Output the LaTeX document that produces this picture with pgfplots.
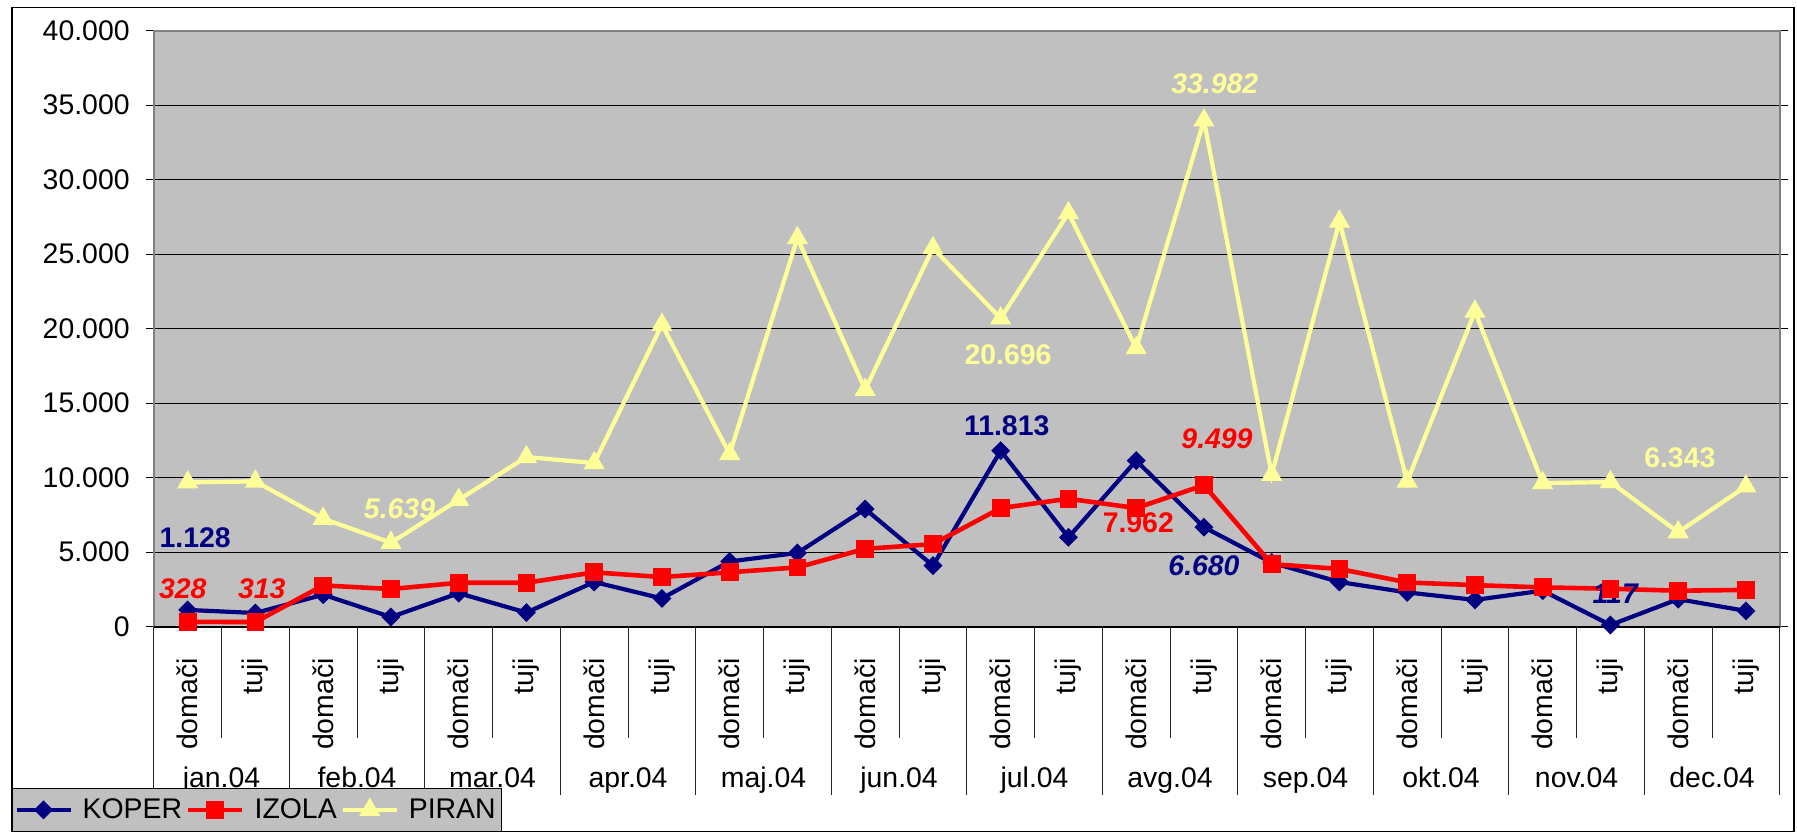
\documentclass[border=0pt]{standalone}
\usepackage{pgfplots}
\pgfplotsset{compat=1.18}
\usepackage{fontspec}
\setmainfont{Liberation Sans}
\definecolor{koper}{HTML}{000080}
\definecolor{izola}{HTML}{FF0000}
\definecolor{piran}{HTML}{FFFF99}
\definecolor{plotbg}{HTML}{C0C0C0}
\newcommand{\fs}{\fontsize{14.2pt}{17pt}\selectfont}

\begin{document}
\begin{tikzpicture}
\useasboundingbox (0,0) rectangle (898.5pt,-416pt);
\fill[white] (0,0) rectangle (898.5pt,-416pt);
\draw[black, line width=0.6pt] (6pt,-3.6pt) rectangle (897pt,-415.6pt);
\begin{axis}[
  at={(76.9pt,-313.35pt)}, anchor=south west,
  scale only axis, width=813pt, height=298pt,
  xmin=-0.5, xmax=23.5, ymin=0, ymax=40000,
  clip=false, scaled y ticks=false,
  axis background/.style={fill=plotbg},
  axis line style={draw=black!50, line width=1pt},
  ytick={0,5000,...,40000},
  yticklabels={0,5.000,10.000,15.000,20.000,25.000,30.000,35.000,40.000},
  ymajorgrids, major grid style={black, line width=0.55pt},
  ytick style={black, line width=0.5pt},
  tick align=outside, major tick length=4pt,
  yticklabel style={font=\fs, anchor=east, inner sep=0pt, xshift=-7.9pt},
  xtick={0,...,23},
  xticklabels={domači,tuji,domači,tuji,domači,tuji,domači,tuji,domači,tuji,domači,tuji,domači,tuji,domači,tuji,domači,tuji,domači,tuji,domači,tuji,domači,tuji},
  xtick style={draw=none},
  xticklabel style={font=\fs, inner sep=0pt, yshift=-11.6pt, rotate=90, anchor=east},
  legend columns=3,
  legend style={at={(-0.0872,-0.2706)}, anchor=north west, fill=plotbg, draw=black,
    font=\fs, inner xsep=1pt, inner ysep=3pt, nodes={inner sep=2pt},
    /tikz/every odd column/.append style={column sep=3pt}},
  legend image code/.code={\draw[#1, mark repeat=2, mark phase=2] plot coordinates {(0pt,0pt) (13.5pt,0pt) (27pt,0pt)};},
]
\addplot[koper, line width=2.1pt, mark=square*, mark size=2.3pt, mark options={rotate=45, solid, fill=koper}] coordinates {
(0,1128) (1,920) (2,2150) (3,650) (4,2250) (5,950) (6,3000) (7,1900) (8,4380) (9,4950) (10,7900) (11,4100)
(12,11813) (13,6000) (14,11150) (15,6680) (16,4300) (17,3000) (18,2300) (19,1800) (20,2420) (21,117) (22,1850) (23,1060)};
\addlegendentry{KOPER}
\addplot[izola, line width=2.3pt, mark=square*, mark size=3.3pt, mark options={solid, fill=izola}] coordinates {
(0,328) (1,313) (2,2770) (3,2530) (4,2950) (5,2950) (6,3650) (7,3330) (8,3650) (9,3980) (10,5230) (11,5540)
(12,7960) (13,8590) (14,7962) (15,9499) (16,4200) (17,3880) (18,2970) (19,2790) (20,2640) (21,2550) (22,2416) (23,2470)};
\addlegendentry{IZOLA}
\addplot[piran, line width=2.1pt, mark=triangle*, mark size=4pt, mark options={solid, fill=piran}] coordinates {
(0,9690) (1,9750) (2,7250) (3,5639) (4,8520) (5,11390) (6,10980) (7,20270) (8,11590) (9,26090) (10,15910) (11,25410)
(12,20696) (13,27760) (14,18700) (15,33982) (16,10200) (17,27200) (18,9750) (19,21160) (20,9640) (21,9710) (22,6343) (23,9420)};
\addlegendentry{PIRAN}
% x axis line
\draw[black, line width=0.8pt] (axis cs:-0.5,0) -- (axis cs:23.5,0);
% category separators
\pgfplotsinvokeforeach{0,...,12}{\draw[black!85, line width=0.5pt] (axis cs:{2*#1-0.5},0) -- ++(0pt,-84.2pt);}
\pgfplotsinvokeforeach{0,...,11}{\draw[black!85, line width=0.5pt] (axis cs:{2*#1+0.5},0) -- ++(0pt,-55.7pt);}
% month labels
\foreach \m [count=\i from 0] in {jan.04,feb.04,mar.04,apr.04,maj.04,jun.04,jul.04,avg.04,sep.04,okt.04,nov.04,dec.04}{
  \edef\tmp{\noexpand\node[font=\noexpand\fs, anchor=base, inner sep=0pt, yshift=-80.15pt] at (axis cs:{2*\i+0.5},0) {\m};}\tmp
}
% data labels
\node[font=\fs\bfseries, text=koper, inner sep=0pt] at (axis cs:0.111,5987) {1.128};
\node[font=\fs\bfseries\itshape, text=izola, inner sep=0pt] at (axis cs:-0.073,2544) {328};
\node[font=\fs\bfseries\itshape, text=izola, inner sep=0pt] at (axis cs:1.094,2544) {313};
\node[font=\fs\bfseries\itshape, text=piran, inner sep=0pt] at (axis cs:3.127,7899) {5.639};
\node[font=\fs\bfseries, text=piran, inner sep=0pt] at (axis cs:12.108,18235) {20.696};
\node[font=\fs\bfseries, text=koper, inner sep=0pt] at (axis cs:12.089,13503) {11.813};
\node[font=\fs\bfseries, text=izola, inner sep=0pt] at (axis cs:14.031,6993) {7.962};
\node[font=\fs\bfseries\itshape, text=izola, inner sep=0pt] at (axis cs:15.193,12597) {9.499};
\node[font=\fs\bfseries\itshape, text=koper, inner sep=0pt] at (axis cs:15.001,4074) {6.680};
\node[font=\fs\bfseries\itshape, text=piran, inner sep=0pt] at (axis cs:15.16,36443) {33.982};
\node[font=\fs\bfseries\itshape, text=koper, inner sep=0pt] at (axis cs:21.07,2195) {117};
\node[font=\fs\bfseries, text=piran, inner sep=0pt] at (axis cs:22.024,11356) {6.343};
\end{axis}
\end{tikzpicture}
\end{document}
